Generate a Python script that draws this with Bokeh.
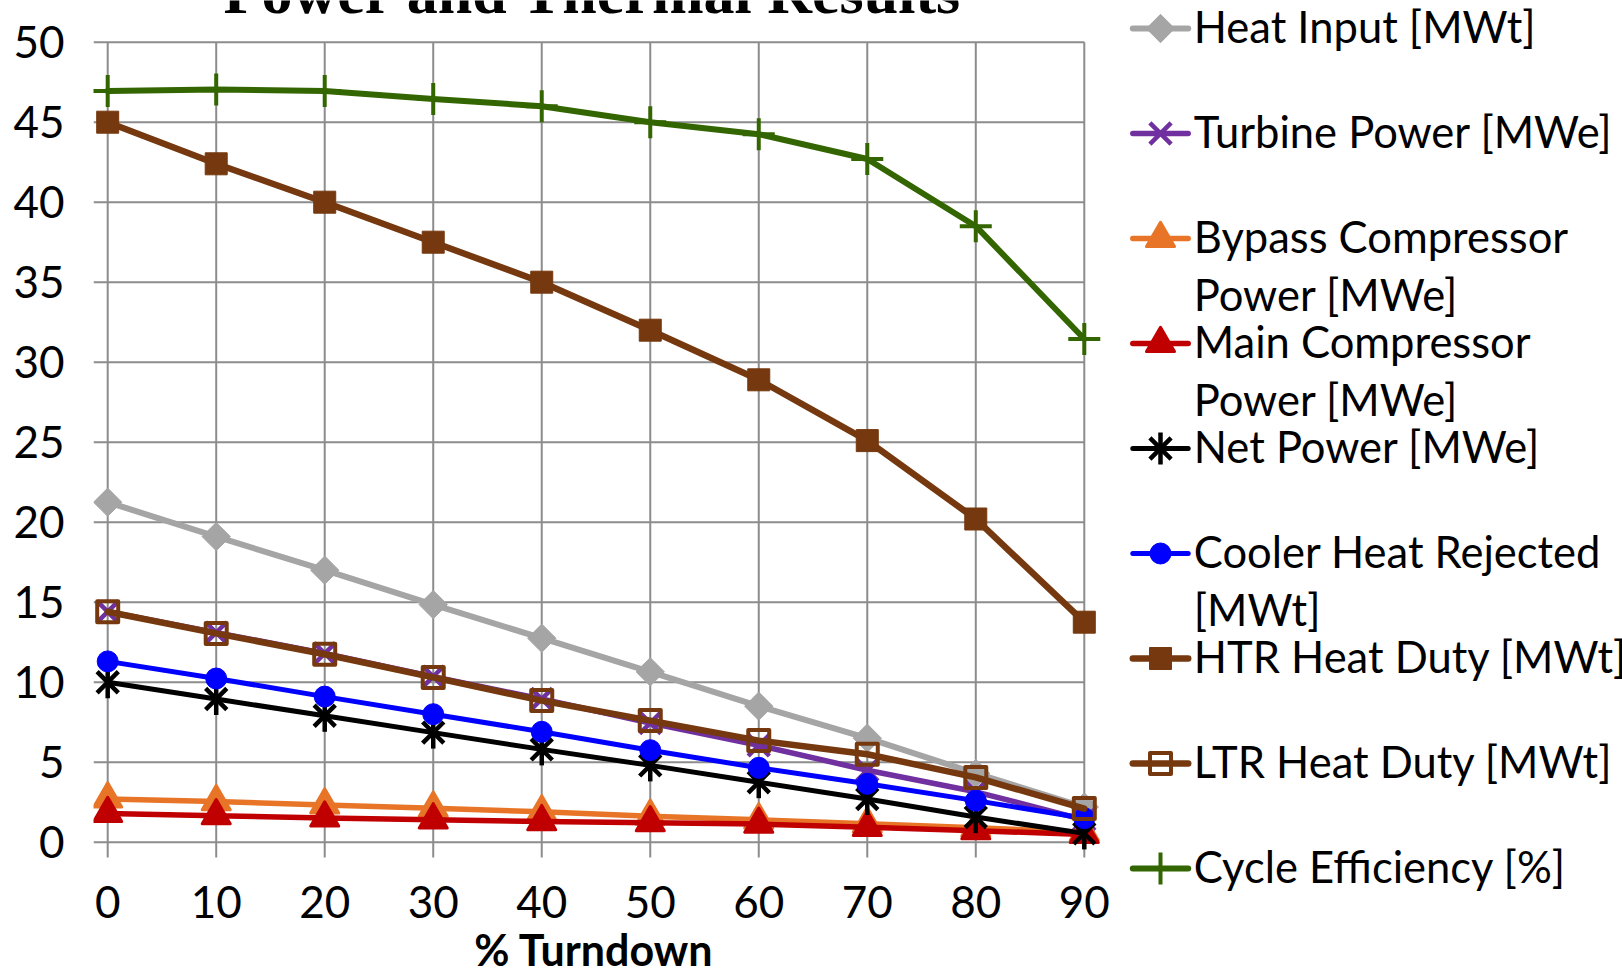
import numpy as np
from bokeh.plotting import figure
from bokeh.models import Range1d, FixedTicker
from bokeh.layouts import row
from bokeh.core.properties import value
from bokeh.embed import file_html
from bokeh.resources import INLINE

# ---------------- data ----------------
turndown = [0, 10, 20, 30, 40, 50, 60, 70, 80, 90]
heat_input = [21.25, 19.1, 17.0, 14.85, 12.75, 10.65, 8.5, 6.5, 4.3, 2.2]
turbine_power = [14.4, 13.1, 11.8, 10.35, 8.95, 7.45, 6.05, 4.5, 3.15, 1.4]
bypass_comp = [2.7, 2.54, 2.33, 2.12, 1.9, 1.62, 1.4, 1.15, 0.9, 0.62]
main_comp = [1.8, 1.66, 1.52, 1.4, 1.29, 1.22, 1.13, 0.93, 0.72, 0.48]
net_power = [10.0, 8.95, 7.9, 6.85, 5.8, 4.8, 3.75, 2.7, 1.57, 0.55]
cooler_heat = [11.3, 10.23, 9.1, 8.0, 6.9, 5.75, 4.65, 3.65, 2.6, 1.5]
htr_duty = [45.0, 42.4, 40.0, 37.5, 35.0, 32.0, 28.9, 25.1, 20.2, 13.75]
ltr_duty = [14.4, 13.05, 11.75, 10.3, 8.85, 7.6, 6.35, 5.5, 4.05, 2.1]
cycle_eff = [46.95, 47.05, 46.95, 46.45, 46.0, 45.0, 44.25, 42.7, 38.5, 31.45]

x_ticks = [0, 10, 20, 30, 40, 50, 60, 70, 80, 90]
x_tick_labels = ["0", "10", "20", "30", "40", "50", "60", "70", "80", "90"]
y_ticks = [0, 5, 10, 15, 20, 25, 30, 35, 40, 45, 50]

title_text = "Power and Thermal Results"
x_title = "% Turndown"

legend_lines = [
    ["Heat Input [MWt]"],
    ["Turbine Power [MWe]"],
    ["Bypass Compressor", "Power [MWe]"],
    ["Main Compressor", "Power [MWe]"],
    ["Net Power [MWe]"],
    ["Cooler Heat Rejected", "[MWt]"],
    ["HTR Heat Duty [MWt]"],
    ["LTR Heat Duty [MWt]"],
    ["Cycle Efficiency [%]"],
]

# ---------------- styles ----------------
FONT = "Lato"
GRID = "#8C8C8C"
series = [
    dict(y=heat_input, color="#A5A5A5", lw=6, markers=[dict(marker="square", size=20, angle=np.pi / 4, fill=True, mlw=1)]),
    dict(y=turbine_power, color="#7030A0", lw=5.5, markers=[dict(marker="x", size=30, angle=0, fill=False, mlw=4.5)]),
    dict(y=bypass_comp, color="#E87527", lw=5.5, markers=[dict(marker="triangle", size=28, angle=0, fill=True, mlw=3)]),
    dict(y=main_comp, color="#C00000", lw=5.5, markers=[dict(marker="triangle", size=28, angle=0, fill=True, mlw=3)]),
    dict(y=net_power, color="#000000", lw=5, markers=[dict(marker="x", size=30, angle=0, fill=False, mlw=4.5),
                                                     dict(marker="dash", size=32, angle=np.pi / 2, fill=False, mlw=4.5)]),
    dict(y=cooler_heat, color="#0000FF", lw=5, markers=[dict(marker="circle", size=21, angle=0, fill=True, mlw=1)]),
    dict(y=htr_duty, color="#76390F", lw=6.5, markers=[dict(marker="square", size=22, angle=0, fill=True, mlw=1)]),
    dict(y=ltr_duty, color="#76390F", lw=6.5, markers=[dict(marker="square", size=21, angle=0, fill=False, mlw=4)]),
    dict(y=cycle_eff, color="#336600", lw=6, markers=[dict(marker="cross", size=32, angle=0, fill=False, mlw=4)]),
]

# ---------------- layout (canvas pixels) ----------------
W1, W2, H = 1128, 494, 976
FL, FR, FT, FB = 93, 1128, 0, 976
X0PX, XSC = 107.2, 10.851   # canvas px of x=0, px per unit
Y0PX, YSC = 841.7, 16.0     # canvas px of y=0, px per unit
BASE_FIX = 18               # shift between requested and drawn baseline of 44px text


def xd(px):
    return (px - X0PX) / XSC


def yd(py):
    return (Y0PX - py) / YSC


p = figure(width=W1, height=H, title=None, x_axis_location=None,
           x_range=Range1d(xd(FL), xd(FR)), y_range=Range1d(yd(FB), yd(FT)),
           output_backend="svg", toolbar_location=None,
           min_border_left=FL, min_border_right=0, min_border_top=0, min_border_bottom=0)
p.frame_align = False
p.xgrid.visible = False
p.ygrid.visible = False
p.outline_line_color = None
p.background_fill_color = "white"
p.border_fill_color = "white"

p.yaxis.ticker = FixedTicker(ticks=y_ticks)
p.yaxis.axis_line_color = None
p.yaxis.major_tick_line_color = None
p.yaxis.minor_tick_line_color = None
p.yaxis.major_tick_out = 0
p.yaxis.major_tick_in = 0
p.yaxis.major_label_text_font = FONT
p.yaxis.major_label_text_font_size = "44px"
p.yaxis.major_label_text_color = "black"
p.yaxis.major_label_standoff = 29

# grid (Excel style: bounded to the plot area, vertical lines run into tick marks)
p.segment(x0=[xd(FL)] * len(y_ticks), x1=[max(x_ticks)] * len(y_ticks), y0=y_ticks, y1=y_ticks,
          line_color=GRID, line_width=2, level="underlay")
p.segment(x0=x_ticks, x1=x_ticks, y0=[yd(857)] * len(x_ticks), y1=[max(y_ticks)] * len(x_ticks),
          line_color=GRID, line_width=2, level="underlay")

# category (x) tick labels and axis title below the plot area
p.text(x=x_ticks, y=[yd(919 - BASE_FIX)] * len(x_ticks), text=x_tick_labels, text_font=value(FONT),
       text_font_size="44px", text_align="center", text_baseline="alphabetic", text_color="black")
p.text(x=[xd(593.6)], y=[yd(966.5 - BASE_FIX)], text=[x_title], text_font=value(FONT),
       text_font_style="bold", text_font_size="43px", text_align="center",
       text_baseline="alphabetic", text_color="black")

for s in series:
    p.line(turndown, s["y"], line_color=s["color"], line_width=s["lw"], line_join="round", line_cap="round")
    for m in s["markers"]:
        p.scatter(turndown, s["y"], marker=m["marker"], size=m["size"], angle=m["angle"],
                  fill_color=s["color"] if m["fill"] else None, line_color=s["color"],
                  line_width=m["mlw"], line_join="round")

# chart title (cut by the top edge, as in the original)
p.text(x=[xd(592.5)], y=[yd(12.5 - 21)], text=[title_text], text_font=value("Liberation Serif"),
       text_font_style="bold", text_font_size="62px", text_align="center",
       text_baseline="alphabetic", text_color="black")

# ---------------- legend panel ----------------
lg = figure(width=W2, height=H, title=None, x_range=Range1d(0, W2), y_range=Range1d(H, 0),
            x_axis_type=None, y_axis_type=None, output_backend="svg", toolbar_location=None,
            min_border=0)
lg.frame_align = False
lg.xgrid.visible = False
lg.ygrid.visible = False
lg.outline_line_color = None

L_X0, L_X1, L_MX, L_TX = 4.3, 59.7, 32.0, 65.3
L_Y0, L_PITCH, L_CAP, L_LINE = 28.0, 105.0, 15.0, 58.0
for i, (s, lines) in enumerate(zip(series, legend_lines)):
    ly = L_Y0 + L_PITCH * i
    lg.line([L_X0, L_X1], [ly, ly], line_color=s["color"], line_width=s["lw"], line_cap="round")
    for m in s["markers"]:
        lg.scatter([L_MX], [ly], marker=m["marker"], size=m["size"], angle=-m["angle"],
                   fill_color=s["color"] if m["fill"] else None, line_color=s["color"],
                   line_width=m["mlw"], line_join="round")
    lg.text(x=[L_TX] * len(lines), y=[ly + L_CAP - BASE_FIX + L_LINE * k for k in range(len(lines))],
            text=lines, text_font=value(FONT), text_font_size="43.5px", text_baseline="alphabetic",
            text_align="left", text_color="black")

layout = row(p, lg)
open("out.html", "w").write(file_html(layout, INLINE))
